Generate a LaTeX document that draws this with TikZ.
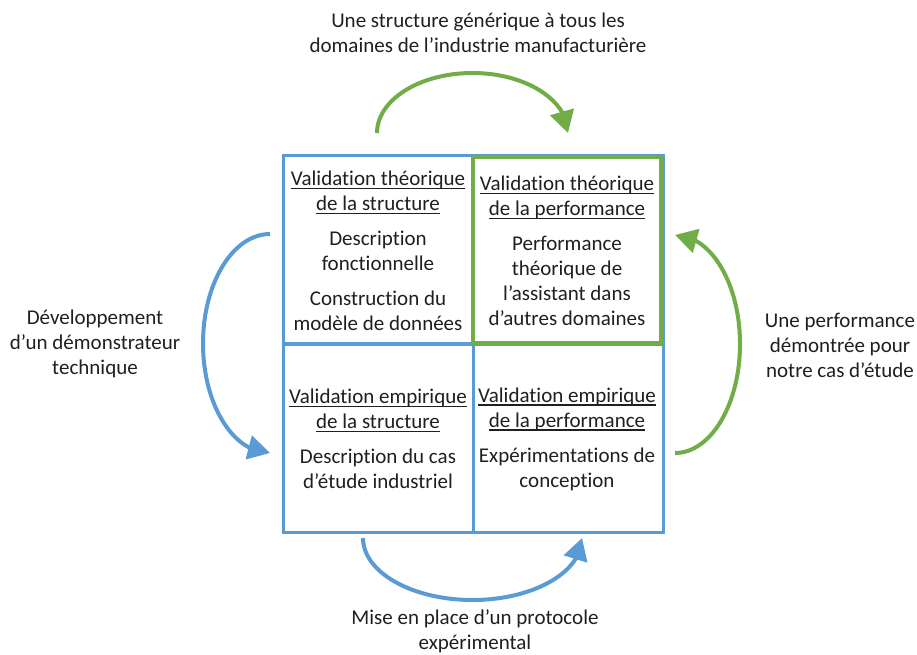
\documentclass[tikz,border=0pt]{standalone}
\usepackage{fontspec}
\setmainfont{Carlito}[Ligatures=NoCommon]
\usetikzlibrary{arrows.meta,bending}
\definecolor{bl}{HTML}{5B9BD5}
\definecolor{gr}{HTML}{70AD47}
\newcommand\ulx[1]{\setbox0\hbox{#1}\rlap{\vrule height -2.2pt depth 3.6pt width \wd0}\box0}
\begin{document}
\begin{tikzpicture}[x=1pt,y=1pt,
 cell/.style={draw=bl,line width=3pt,minimum width=190pt,minimum height=189pt,inner sep=0pt},
 gcell/.style={draw=gr,line width=4pt,minimum width=188pt,minimum height=186pt,inner sep=0pt},
 txt/.style={font=\fontsize{21}{25}\selectfont,align=center,text=black!88,inner sep=0pt},
 arr/.style={line width=4pt,-{Triangle[length=22pt,width=24pt,flex]}},
]
\useasboundingbox (0,0) rectangle (917,-654);
% cells
\node[cell] (c11) at (378,-249.5) {};
\node[cell] (c12) at (568,-249.5) {};
\node[cell] (c21) at (378,-438) {};
\node[cell] (c22) at (568,-438) {};
\node[gcell] (g) at (567,-250) {};
% cell texts
\node[txt] (t11) at (378,-251) {\ulx{Validation théorique}\\\ulx{de la structure}\\[10pt]Description\\fonctionnelle\\[10pt]Construction du\\modèle de données};
\node[txt] (t12) at (567,-251) {\ulx{Validation théorique}\\\ulx{de la performance}\\[10pt]Performance\\théorique de\\l’assistant dans\\d’autres domaines};
\node[txt] (t21) at (378,-439) {\ulx{Validation empirique}\\\ulx{de la structure}\\[10pt]Description du cas\\d’étude industriel};
\node[txt] (t22) at (567,-439) {\ulx{Validation empirique}\\\ulx{de la performance}\\[10pt]Expérimentations de\\conception};
% outer labels
\node[txt] (ltop) at (478,-33) {Une structure générique à tous les\\domaines de l’industrie manufacturière};
\node[txt] (lleft) at (95,-344) {Développement\\d’un démonstrateur\\technique};
\node[txt] (lright) at (840,-345) {Une performance\\démontrée pour\\notre cas d’étude};
\node[txt] (lbot) at (475,-631) {Mise en place d’un protocole\\expérimental};
% arrows
\coordinate (a1) at (377,-133);
\coordinate (a2) at (270,-234);
\coordinate (a3) at (675,-453);
\coordinate (a4) at (363,-538);
\draw[arr,gr] (a1) arc[start angle=180,end angle=0,x radius=95.5,y radius=60];
\draw[arr,bl] (a2) arc[start angle=90,end angle=270,x radius=67,y radius=109.5];
\draw[arr,gr] (a3) arc[start angle=-90,end angle=90,x radius=65,y radius=109];
\draw[arr,bl] (a4) arc[start angle=180,end angle=360,x radius=109.5,y radius=62];
\end{tikzpicture}
\end{document}
